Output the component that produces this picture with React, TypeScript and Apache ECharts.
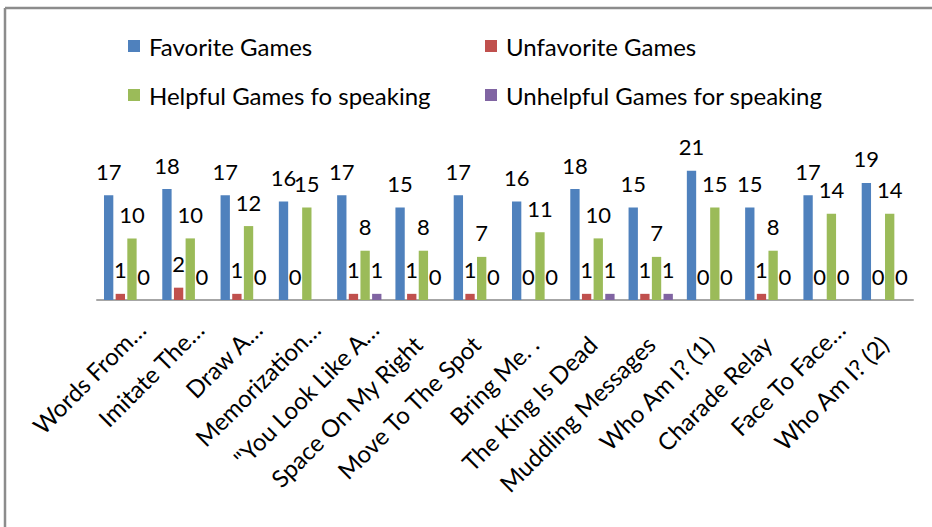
import React, { useEffect, useRef } from "react";
import * as echarts from "echarts";

const categories = [
  "Words From…",
  "Imitate The…",
  "Draw A…",
  "Memorization…",
  "\"You Look Like A…",
  "Space On My Right",
  "Move To The Spot",
  "Bring Me. .",
  "The King Is Dead",
  "Muddling Messages",
  "Who Am I? (1)",
  "Charade Relay",
  "Face To Face…",
  "Who Am I? (2)",
];
const favorite = [17, 18, 17, 16, 17, 15, 17, 16, 18, 15, 21, 15, 17, 19];
const unfavorite = [1, 2, 1, 0, 1, 1, 1, 0, 1, 1, 0, 1, 0, 0];
const helpful = [10, 10, 12, 15, 8, 8, 7, 11, 10, 7, 15, 8, 14, 14];
const unhelpful: (number | null)[] = [0, 0, 0, null, 1, 0, 0, 0, 1, 1, 0, 0, 0, 0];
const seriesNames = [
  "Favorite Games",
  "Unfavorite Games",
  "Helpful Games fo speaking",
  "Unhelpful Games for speaking",
];
const colors = ["#4F81BD", "#C0504D", "#9BBB59", "#8064A2"];

const FONT = "Lato";

export default function App() {
  const ref = useRef<HTMLDivElement>(null);
  useEffect(() => {
    if (!ref.current) return;
    const chart = echarts.init(ref.current, undefined, { renderer: "svg" });
    const legendPos = [
      { left: 128, top: 34 },
      { left: 485, top: 34 },
      { left: 128, top: 83 },
      { left: 485, top: 83 },
    ];
    const datas = [favorite, unfavorite, helpful, unhelpful];
    const axisData = categories.map((c) =>
      c.endsWith("…")
        ? { value: c, textStyle: { padding: [0, -21, 0, 0] } }
        : c
    );
    chart.setOption({
      animation: false,
      backgroundColor: "#ffffff",
      textStyle: { fontFamily: FONT },
      color: colors,
      graphic: [
        {
          type: "line",
          shape: { x1: 5, y1: 8, x2: 932, y2: 8 },
          style: { stroke: "#8c8c8c", lineWidth: 2.5 },
        },
        {
          type: "line",
          shape: { x1: 5, y1: 8, x2: 5, y2: 527 },
          style: { stroke: "#8c8c8c", lineWidth: 2.5 },
        },
      ],
      legend: seriesNames.map((n, i) => ({
        data: [n],
        left: legendPos[i].left,
        top: legendPos[i].top,
        padding: 0,
        icon: "rect",
        itemWidth: 12,
        itemHeight: 12,
        selectedMode: false,
        textStyle: {
          fontFamily: FONT,
          fontSize: 24,
          color: "#000",
          padding: [0, 0, 0, 4],
        },
      })),
      grid: { left: 97, right: 19, top: 146, bottom: 227 },
      xAxis: {
        type: "category",
        data: axisData,
        axisLine: { lineStyle: { color: "#a6a6a6", width: 2 } },
        axisTick: { show: false },
        axisLabel: {
          interval: 0,
          rotate: 45,
          fontFamily: FONT,
          fontSize: 24,
          color: "#000",
          margin: 40,
          verticalAlign: "middle",
        },
      },
      yAxis: { type: "value", min: 0, max: 25, show: false },
      series: seriesNames.map((n, i) => ({
        name: n,
        type: "bar",
        data: datas[i],
        barCategoryGap: "24%",
        barGap: "25%",
        itemStyle: { color: colors[i] },
        label: {
          show: true,
          position: "top",
          distance: 13,
          fontFamily: FONT,
          fontSize: 22,
          color: "#000",
        },
      })),
    });
    return () => chart.dispose();
  }, []);
  return (
    <div
      ref={ref}
      style={{ position: "fixed", left: 0, top: 0, width: 932, height: 527 }}
    />
  );
}
